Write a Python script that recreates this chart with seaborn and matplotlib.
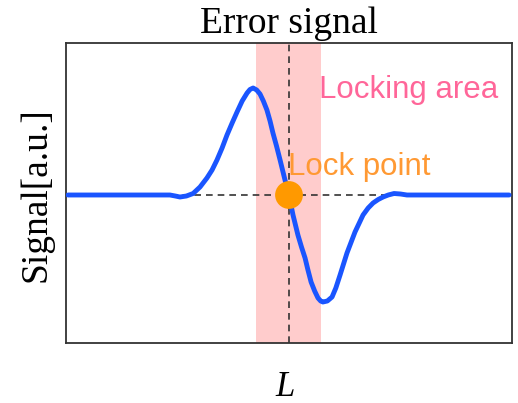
import matplotlib
matplotlib.use("Agg")
import matplotlib.pyplot as plt
import seaborn as sns
import pandas as pd

# Error signal versus cavity length L (arbitrary units)
length = [-9.91, -5.34, -5.10, -4.89, -4.60, -4.30, -3.99, -3.68, -3.45, -3.23,
          -3.00, -2.78, -2.55, -2.33, -2.10, -1.88, -1.75, -1.61, -1.45, -1.30,
          -1.15, -0.99, -0.85, -0.72, -0.56, -0.40, -0.18, 0.00, 0.18, 0.40,
          0.56, 0.72, 0.85, 0.99, 1.15, 1.30, 1.42, 1.52, 1.72, 1.93,
          2.10, 2.29, 2.60, 2.96, 3.32, 3.55, 3.77, 4.00, 4.22, 4.45,
          4.71, 5.00, 5.29, 9.87]
signal = [0.00, 0.00, -0.01, -0.02, -0.01, 0.015, 0.08, 0.17, 0.25, 0.35,
          0.47, 0.60, 0.72, 0.83, 0.94, 1.02, 1.055, 1.07, 1.05, 1.01,
          0.94, 0.85, 0.74, 0.62, 0.49, 0.35, 0.15, 0.00, -0.20, -0.40,
          -0.52, -0.63, -0.75, -0.87, -0.96, -1.03, -1.06, -1.07, -1.06, -1.02,
          -0.93, -0.80, -0.58, -0.37, -0.20, -0.13, -0.08, -0.045, -0.02, 0.00,
          0.015, 0.01, 0.00, 0.00]

lock_x = [0.0]
lock_y = [0.0]
locking_area = [-1.48, 1.43]

title = "Error signal"
xlabel = "L"
ylabel = "Signal[a.u.]"
area_label = "Locking area"
point_label = "Lock point"

sns.set_style("white")
plt.rcParams["font.family"] = ["Liberation Serif", "DejaVu Serif"]
plt.rcParams["text.color"] = "black"
plt.rcParams["axes.labelcolor"] = "black"

fig = plt.figure(figsize=(5.18, 4.03), dpi=100)
ax = fig.add_axes([66 / 518, 60 / 403, 446 / 518, 300 / 403])

df = pd.DataFrame({"L": length, "signal": signal})

ax.axvspan(locking_area[0], locking_area[1], color="#ffcccc", lw=0, zorder=0)
ax.axhline(0, color="#333333", lw=1.2, ls=(0, (4, 3)), zorder=1)
ax.axvline(0, color="#333333", lw=1.2, ls=(0, (4, 3)), zorder=1)

sns.lineplot(data=df, x="L", y="signal", sort=False, color="#1a55ff",
             lw=3.5, ax=ax, zorder=3, solid_capstyle="round",
             solid_joinstyle="round")
sns.scatterplot(x=lock_x, y=lock_y, s=400, color="#ff9900", edgecolor="none",
                ax=ax, zorder=4)

ax.text(1.35, 0.97, area_label, color="#ff6699", fontsize=22.5,
        family=["Liberation Sans", "DejaVu Sans"], va="baseline", ha="left",
        zorder=5)
ax.text(-0.04, 0.20, point_label, color="#ff9933", fontsize=22.5,
        family=["Liberation Sans", "DejaVu Sans"], va="baseline", ha="left",
        zorder=5)

ax.set_xlim(-10, 10)
ax.set_ylim(-1.48, 1.52)
ax.set_xticks([])
ax.set_yticks([])

ax.set_title(title, fontsize=27, pad=7, color="black")
ax.set_xlabel(xlabel, fontsize=25, style="italic")
ax.set_ylabel(ylabel, fontsize=27)
ax.xaxis.set_label_coords(0.491, -0.093)
ax.yaxis.set_label_coords(-0.029, 0.493)

for sp in ax.spines.values():
    sp.set_visible(True)
    sp.set_color("#333333")
    sp.set_linewidth(1.3)

fig.savefig("out.png", dpi=100)
